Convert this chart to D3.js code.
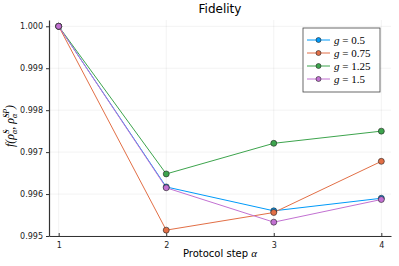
<!DOCTYPE html>
<html>
<head>
<meta charset="utf-8">
<script src="https://cdn.jsdelivr.net/npm/d3@7"></script>
<style>
body { margin: 0; background: #fff; }
text { font-family: "DejaVu Sans", sans-serif; }
.math { font-family: "Liberation Serif", "DejaVu Serif", serif; font-style: italic; }
</style>
</head>
<body>
<svg width="399" height="266"></svg>
<script>
// Chart data
var steps = [1, 2, 3, 4];
var g05 = [1.0, 0.99617, 0.99560, 0.99590];
var g075 = [1.0, 0.99514, 0.99556, 0.99678];
var g125 = [1.0, 0.99648, 0.99721, 0.99750];
var g15 = [1.0, 0.99615, 0.99533, 0.99587];
var labels = ["0.5", "0.75", "1.25", "1.5"];
var colors = ["#009af9", "#e26f46", "#3da44d", "#c271d2"];
var yTicks = [0.995, 0.996, 0.997, 0.998, 0.999, 1.000];

var series = [g05, g075, g125, g15];

var margin = { top: 20, right: 8, bottom: 30, left: 49 };
var svg = d3.select("svg");
var width = 399 - margin.left - margin.right;
var height = 266 - margin.top - margin.bottom;

var x = d3.scaleLinear().domain([0.91, 4.09]).range([0, width]);
var y = d3.scaleLinear().domain([0.995, 1.00015]).range([height, 0]);

var g = svg.append("g")
	.attr("transform", "translate(" + margin.left + "," + margin.top + ")");

// Grid lines
g.selectAll(".gx").data(steps).enter().append("line")
	.attr("x1", function (d) { return x(d); }).attr("x2", function (d) { return x(d); })
	.attr("y1", 0).attr("y2", height)
	.attr("stroke", "#000").attr("stroke-opacity", 0.1).attr("stroke-width", 0.5);
g.selectAll(".gy").data(yTicks).enter().append("line")
	.attr("x1", 0).attr("x2", width)
	.attr("y1", function (d) { return y(d); }).attr("y2", function (d) { return y(d); })
	.attr("stroke", "#000").attr("stroke-opacity", 0.1).attr("stroke-width", 0.5);

// Axes
var xAxis = g.append("g")
	.attr("transform", "translate(0," + height + ")")
	.call(d3.axisBottom(x).tickValues(steps).tickFormat(d3.format("d"))
		.tickSizeInner(-3).tickSizeOuter(0).tickPadding(6));
var yAxis = g.append("g")
	.call(d3.axisLeft(y).tickValues(yTicks).tickFormat(d3.format(".3f"))
		.tickSizeInner(3).tickSizeOuter(0).tickPadding(3));
[xAxis, yAxis].forEach(function (a) {
	a.select(".domain").attr("stroke", "#333").attr("stroke-width", 1.2);
	a.selectAll(".tick line").attr("stroke", "#333");
	a.selectAll(".tick text").attr("fill", "#222").style("font-size", "8px")
		.style("font-family", "DejaVu Sans, sans-serif");
});

// Lines and markers
var line = d3.line()
	.x(function (d, i) { return x(steps[i]); })
	.y(function (d) { return y(d); });

series.forEach(function (s, k) {
	g.append("path")
		.datum(s)
		.attr("fill", "none")
		.attr("stroke", colors[k])
		.attr("stroke-width", 1)
		.attr("d", line);
});
series.forEach(function (s, k) {
	g.selectAll(".dot" + k).data(s).enter().append("circle")
		.attr("cx", function (d, i) { return x(steps[i]); })
		.attr("cy", function (d) { return y(d); })
		.attr("r", 3)
		.attr("fill", colors[k])
		.attr("stroke", "#222")
		.attr("stroke-width", 0.6);
});

// Title
svg.append("text")
	.attr("x", margin.left + width / 2).attr("y", 13)
	.attr("text-anchor", "middle")
	.style("font-size", "12px")
	.text("Fidelity");

// X label
var xl = svg.append("text")
	.attr("x", margin.left + width / 2).attr("y", 257)
	.attr("text-anchor", "middle")
	.style("font-size", "10px");
xl.append("tspan").text("Protocol step ");
xl.append("tspan").attr("class", "math").style("font-size", "11px").text("α");

// Y label
var yl = svg.append("text")
	.attr("transform", "translate(14," + (margin.top + height / 2 - 2) + ") rotate(-90)")
	.attr("text-anchor", "middle")
	.attr("class", "math")
	.style("font-size", "12px");
yl.append("tspan").text("f(");
yl.append("tspan").text("ρ̃");
yl.append("tspan").attr("dy", 3).style("font-size", "8px").text("α");
yl.append("tspan").attr("dy", -8).attr("dx", -4).style("font-size", "8px").text("S");
yl.append("tspan").attr("dy", 5).text(", ");
yl.append("tspan").text("ρ̃");
yl.append("tspan").attr("dy", 3).style("font-size", "8px").text("α");
yl.append("tspan").attr("dy", -8).attr("dx", -4).style("font-size", "8px").text("SP");
yl.append("tspan").attr("dy", 5).text(")");

// Legend
var lg = svg.append("g").attr("transform", "translate(303,28)");
lg.append("rect")
	.attr("width", 77).attr("height", 64)
	.attr("fill", "#fff").attr("stroke", "#444").attr("stroke-width", 0.8);
labels.forEach(function (lab, k) {
	var row = lg.append("g").attr("transform", "translate(0," + (12 + k * 13) + ")");
	row.append("line").attr("x1", 4).attr("x2", 27)
		.attr("stroke", colors[k]).attr("stroke-width", 1);
	row.append("circle").attr("cx", 15.5).attr("r", 2.5)
		.attr("fill", colors[k]).attr("stroke", "#222").attr("stroke-width", 0.6);
	var t = row.append("text").attr("x", 31).attr("y", 4)
		.attr("class", "math").style("font-size", "11px");
	t.append("tspan").text("g");
	t.append("tspan").style("font-style", "normal").text(" = " + lab);
});
</script>
</body>
</html>
